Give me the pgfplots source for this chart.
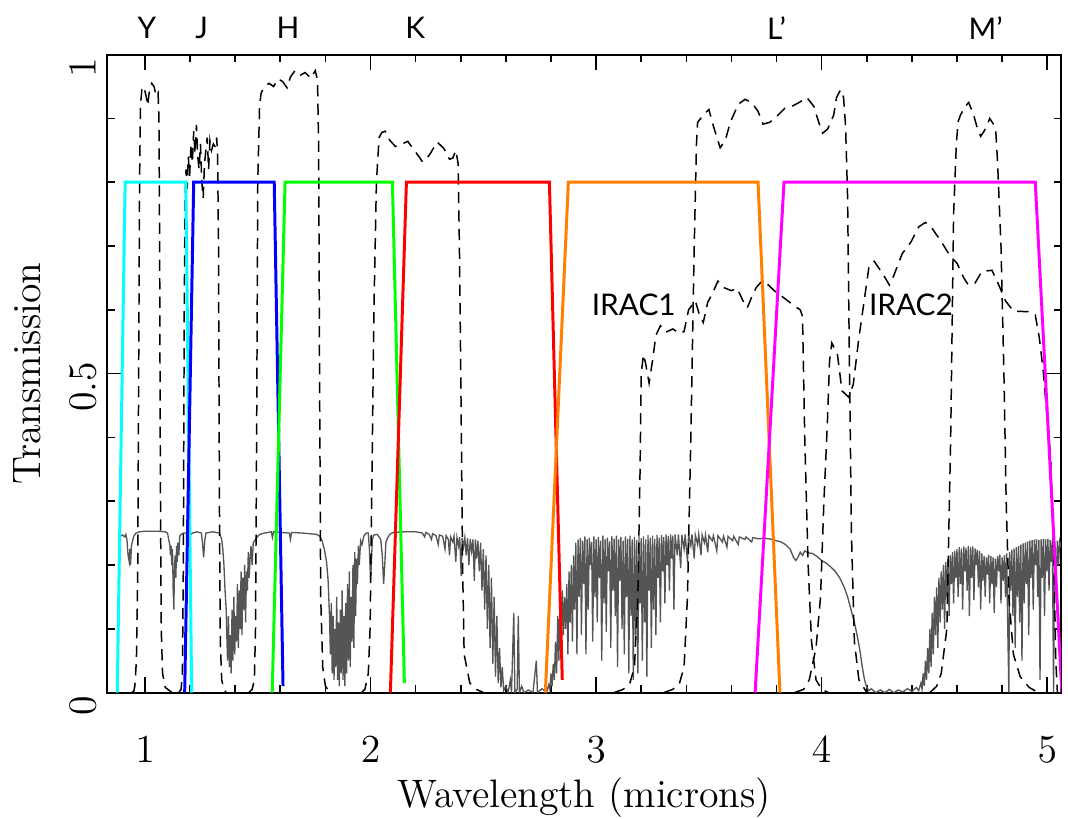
\documentclass[border=0pt]{standalone}
\usepackage{fontspec}
\newfontfamily\labelfont{Lato}
\usepackage{pgfplots}
\pgfplotsset{compat=1.18}
\definecolor{atm}{RGB}{85,85,85}
\definecolor{yband}{RGB}{0,255,255}
\definecolor{jband}{RGB}{0,0,255}
\definecolor{hband}{RGB}{0,255,0}
\definecolor{kband}{RGB}{255,0,0}
\definecolor{lband}{RGB}{255,128,0}
\definecolor{mband}{RGB}{255,0,255}

% atmospheric transmission (scaled to 0.25)
\pgfplotstableread[header=false,row sep=\\]{
0.890 0.245\\ 0.900 0.247\\ 0.910 0.244\\ 0.915 0.248\\ 0.920 0.240\\ 0.925 0.215\\ 0.930 0.205\\ 0.933 0.225\\
0.936 0.200\\ 0.940 0.230\\ 0.945 0.238\\ 0.950 0.245\\ 0.960 0.250\\ 0.975 0.252\\ 1.000 0.253\\ 1.050 0.253\\
1.090 0.252\\ 1.100 0.250\\ 1.105 0.240\\ 1.110 0.232\\ 1.113 0.215\\ 1.116 0.230\\ 1.119 0.200\\ 1.122 0.225\\
1.125 0.160\\ 1.128 0.130\\ 1.131 0.200\\ 1.134 0.215\\ 1.137 0.180\\ 1.140 0.230\\ 1.143 0.205\\ 1.146 0.235\\
1.150 0.215\\ 1.154 0.245\\ 1.160 0.248\\ 1.170 0.250\\ 1.190 0.250\\ 1.200 0.247\\ 1.210 0.250\\ 1.230 0.252\\
1.250 0.250\\ 1.255 0.235\\ 1.260 0.212\\ 1.265 0.238\\ 1.270 0.250\\ 1.300 0.252\\ 1.330 0.250\\ 1.340 0.240\\
1.345 0.225\\ 1.350 0.200\\ 1.355 0.160\\ 1.360 0.130\\ 1.362 0.100\\ 1.366 0.050\\ 1.370 0.120\\ 1.374 0.040\\
1.378 0.090\\ 1.382 0.030\\ 1.386 0.130\\ 1.390 0.050\\ 1.394 0.150\\ 1.398 0.060\\ 1.402 0.120\\ 1.406 0.080\\
1.410 0.170\\ 1.414 0.070\\ 1.418 0.160\\ 1.422 0.100\\ 1.426 0.190\\ 1.430 0.090\\ 1.434 0.180\\ 1.438 0.130\\
1.442 0.200\\ 1.446 0.110\\ 1.450 0.190\\ 1.454 0.160\\ 1.458 0.220\\ 1.462 0.180\\ 1.466 0.210\\ 1.470 0.230\\
1.475 0.200\\ 1.480 0.235\\ 1.490 0.240\\ 1.500 0.245\\ 1.510 0.248\\ 1.530 0.250\\ 1.560 0.252\\ 1.565 0.243\\
1.570 0.252\\ 1.600 0.251\\ 1.640 0.250\\ 1.645 0.240\\ 1.650 0.251\\ 1.700 0.250\\ 1.730 0.249\\ 1.760 0.248\\
1.775 0.245\\ 1.785 0.238\\ 1.795 0.225\\ 1.805 0.205\\ 1.812 0.175\\ 1.818 0.120\\ 1.822 0.060\\ 1.826 0.140\\
1.830 0.030\\ 1.834 0.120\\ 1.838 0.020\\ 1.842 0.100\\ 1.846 0.040\\ 1.850 0.150\\ 1.854 0.020\\ 1.858 0.110\\
1.862 0.010\\ 1.866 0.130\\ 1.870 0.030\\ 1.874 0.160\\ 1.878 0.020\\ 1.882 0.120\\ 1.886 0.010\\ 1.890 0.140\\
1.894 0.030\\ 1.898 0.170\\ 1.902 0.050\\ 1.906 0.190\\ 1.910 0.040\\ 1.914 0.150\\ 1.918 0.080\\ 1.922 0.200\\
1.926 0.070\\ 1.930 0.220\\ 1.934 0.120\\ 1.938 0.210\\ 1.942 0.170\\ 1.946 0.230\\ 1.950 0.200\\ 1.956 0.238\\
1.962 0.232\\ 1.970 0.245\\ 1.980 0.250\\ 1.990 0.250\\ 1.995 0.225\\ 2.000 0.175\\ 2.004 0.205\\ 2.008 0.240\\
2.015 0.247\\ 2.030 0.248\\ 2.045 0.240\\ 2.052 0.215\\ 2.058 0.170\\ 2.063 0.200\\ 2.068 0.235\\ 2.075 0.242\\
2.085 0.248\\ 2.100 0.251\\ 2.150 0.252\\ 2.200 0.252\\ 2.230 0.250\\ 2.240 0.244\\ 2.245 0.251\\ 2.260 0.248\\
2.270 0.240\\ 2.275 0.249\\ 2.290 0.246\\ 2.300 0.232\\ 2.305 0.247\\ 2.320 0.245\\ 2.330 0.225\\ 2.335 0.246\\
2.345 0.240\\ 2.350 0.215\\ 2.355 0.244\\ 2.365 0.236\\ 2.370 0.245\\ 2.378 0.205\\ 2.383 0.243\\ 2.390 0.230\\
2.395 0.244\\ 2.402 0.183\\ 2.406 0.242\\ 2.412 0.228\\ 2.418 0.243\\ 2.424 0.215\\ 2.430 0.242\\ 2.436 0.200\\
2.442 0.241\\ 2.448 0.222\\ 2.454 0.240\\ 2.460 0.175\\ 2.465 0.240\\ 2.470 0.210\\ 2.476 0.238\\ 2.482 0.190\\
2.488 0.235\\ 2.494 0.160\\ 2.500 0.225\\ 2.506 0.130\\ 2.512 0.215\\ 2.518 0.100\\ 2.524 0.200\\ 2.530 0.070\\
2.536 0.180\\ 2.542 0.045\\ 2.548 0.150\\ 2.554 0.025\\ 2.560 0.120\\ 2.566 0.015\\ 2.572 0.070\\ 2.578 0.008\\
2.584 0.040\\ 2.590 0.003\\ 2.600 0.010\\ 2.610 0.000\\ 2.620 0.020\\ 2.625 0.000\\ 2.635 0.125\\ 2.640 0.000\\
2.650 0.005\\ 2.655 0.120\\ 2.660 0.000\\ 2.670 0.010\\ 2.680 0.000\\ 2.700 0.004\\ 2.720 0.000\\ 2.735 0.050\\
2.740 0.000\\ 2.760 0.006\\ 2.780 0.000\\ 2.790 0.012\\ 2.795 0.005\\ 2.800 0.030\\ 2.805 0.010\\ 2.810 0.045\\
2.815 0.020\\ 2.820 0.080\\ 2.825 0.030\\ 2.830 0.120\\ 2.835 0.050\\ 2.840 0.145\\ 2.845 0.070\\ 2.850 0.160\\
2.855 0.090\\ 2.860 0.150\\ 2.865 0.100\\ 2.870 0.170\\ 2.875 0.060\\ 2.880 0.190\\ 2.885 0.110\\ 2.890 0.200\\
2.895 0.080\\ 2.900 0.215\\ 2.905 0.130\\ 2.910 0.235\\ 2.915 0.060\\ 2.920 0.240\\ 2.925 0.150\\ 2.930 0.242\\
2.935 0.090\\ 2.940 0.238\\ 2.945 0.170\\ 2.950 0.245\\ 2.955 0.060\\ 2.960 0.240\\ 2.965 0.130\\ 2.970 0.243\\
2.975 0.200\\ 2.980 0.236\\ 2.985 0.080\\ 2.990 0.245\\ 2.995 0.150\\ 3.000 0.240\\ 3.005 0.110\\ 3.010 0.244\\
3.015 0.180\\ 3.020 0.238\\ 3.025 0.050\\ 3.030 0.246\\ 3.035 0.140\\ 3.040 0.240\\ 3.045 0.095\\ 3.050 0.243\\
3.055 0.190\\ 3.060 0.237\\ 3.065 0.070\\ 3.070 0.245\\ 3.075 0.160\\ 3.080 0.241\\ 3.085 0.120\\ 3.090 0.246\\
3.095 0.040\\ 3.100 0.240\\ 3.105 0.175\\ 3.110 0.244\\ 3.115 0.100\\ 3.120 0.238\\ 3.125 0.060\\ 3.130 0.245\\
3.135 0.150\\ 3.140 0.241\\ 3.145 0.030\\ 3.150 0.246\\ 3.155 0.120\\ 3.160 0.240\\ 3.165 0.020\\ 3.170 0.244\\
3.175 0.090\\ 3.180 0.239\\ 3.185 0.030\\ 3.190 0.246\\ 3.195 0.140\\ 3.200 0.242\\ 3.205 0.050\\ 3.210 0.245\\
3.215 0.110\\ 3.220 0.240\\ 3.225 0.025\\ 3.230 0.247\\ 3.235 0.160\\ 3.240 0.243\\ 3.245 0.070\\ 3.250 0.246\\
3.255 0.130\\ 3.260 0.241\\ 3.265 0.090\\ 3.270 0.247\\ 3.275 0.180\\ 3.280 0.243\\ 3.285 0.110\\ 3.290 0.247\\
3.295 0.190\\ 3.300 0.244\\ 3.305 0.140\\ 3.310 0.248\\ 3.315 0.200\\ 3.320 0.245\\ 3.325 0.160\\ 3.330 0.248\\
3.335 0.210\\ 3.340 0.246\\ 3.345 0.130\\ 3.350 0.248\\ 3.360 0.215\\ 3.365 0.248\\ 3.375 0.195\\ 3.380 0.247\\
3.390 0.225\\ 3.395 0.248\\ 3.405 0.205\\ 3.410 0.247\\ 3.420 0.230\\ 3.425 0.248\\ 3.435 0.210\\ 3.440 0.247\\
3.450 0.232\\ 3.455 0.248\\ 3.465 0.215\\ 3.470 0.247\\ 3.480 0.235\\ 3.485 0.247\\ 3.495 0.220\\ 3.500 0.246\\
3.515 0.238\\ 3.520 0.246\\ 3.535 0.222\\ 3.540 0.246\\ 3.560 0.236\\ 3.565 0.245\\ 3.580 0.228\\ 3.585 0.245\\
3.605 0.238\\ 3.610 0.245\\ 3.630 0.232\\ 3.635 0.244\\ 3.660 0.240\\ 3.665 0.244\\ 3.690 0.236\\ 3.695 0.243\\
3.720 0.241\\ 3.750 0.242\\ 3.780 0.240\\ 3.800 0.238\\ 3.820 0.236\\ 3.840 0.232\\ 3.860 0.225\\ 3.875 0.212\\
3.885 0.207\\ 3.895 0.212\\ 3.905 0.220\\ 3.915 0.215\\ 3.925 0.222\\ 3.940 0.219\\ 3.960 0.218\\ 3.980 0.213\\
4.000 0.207\\ 4.020 0.203\\ 4.040 0.197\\ 4.060 0.190\\ 4.080 0.180\\ 4.100 0.165\\ 4.115 0.150\\ 4.130 0.130\\
4.145 0.110\\ 4.160 0.085\\ 4.170 0.065\\ 4.180 0.040\\ 4.190 0.020\\ 4.200 0.008\\ 4.210 0.003\\ 4.220 0.006\\
4.240 0.000\\ 4.260 0.004\\ 4.280 0.000\\ 4.300 0.005\\ 4.320 0.000\\ 4.340 0.004\\ 4.360 0.001\\ 4.380 0.006\\
4.400 0.002\\ 4.420 0.008\\ 4.430 0.003\\ 4.440 0.015\\ 4.445 0.005\\ 4.450 0.030\\ 4.455 0.010\\ 4.460 0.050\\
4.465 0.020\\ 4.470 0.070\\ 4.475 0.030\\ 4.480 0.100\\ 4.485 0.040\\ 4.490 0.125\\ 4.495 0.060\\ 4.500 0.150\\
4.505 0.090\\ 4.510 0.165\\ 4.515 0.070\\ 4.520 0.180\\ 4.525 0.110\\ 4.530 0.190\\ 4.535 0.130\\ 4.540 0.200\\
4.545 0.100\\ 4.550 0.205\\ 4.555 0.150\\ 4.560 0.210\\ 4.565 0.120\\ 4.570 0.215\\ 4.575 0.170\\ 4.580 0.220\\
4.585 0.140\\ 4.590 0.222\\ 4.595 0.180\\ 4.600 0.225\\ 4.605 0.150\\ 4.610 0.228\\ 4.615 0.170\\ 4.620 0.226\\
4.625 0.130\\ 4.630 0.229\\ 4.635 0.190\\ 4.640 0.227\\ 4.645 0.160\\ 4.650 0.230\\ 4.655 0.120\\ 4.660 0.228\\
4.665 0.180\\ 4.670 0.229\\ 4.675 0.145\\ 4.680 0.226\\ 4.685 0.200\\ 4.690 0.224\\ 4.695 0.165\\ 4.700 0.222\\
4.705 0.130\\ 4.710 0.218\\ 4.715 0.175\\ 4.720 0.214\\ 4.725 0.150\\ 4.730 0.212\\ 4.735 0.185\\ 4.740 0.216\\
4.745 0.140\\ 4.750 0.214\\ 4.755 0.170\\ 4.760 0.212\\ 4.765 0.125\\ 4.770 0.210\\ 4.775 0.165\\ 4.780 0.214\\
4.785 0.190\\ 4.790 0.216\\ 4.795 0.140\\ 4.800 0.212\\ 4.805 0.175\\ 4.810 0.215\\ 4.815 0.150\\ 4.820 0.218\\
4.825 0.100\\ 4.830 0.000\\ 4.833 0.220\\ 4.838 0.160\\ 4.843 0.224\\ 4.848 0.120\\ 4.853 0.226\\ 4.858 0.070\\
4.863 0.228\\ 4.868 0.150\\ 4.873 0.230\\ 4.878 0.110\\ 4.883 0.232\\ 4.888 0.050\\ 4.893 0.234\\ 4.898 0.140\\
4.903 0.235\\ 4.908 0.170\\ 4.913 0.237\\ 4.918 0.090\\ 4.923 0.238\\ 4.928 0.180\\ 4.933 0.239\\ 4.938 0.130\\
4.943 0.240\\ 4.948 0.200\\ 4.953 0.240\\ 4.958 0.150\\ 4.963 0.239\\ 4.968 0.020\\ 4.973 0.240\\ 4.978 0.180\\
4.983 0.241\\ 4.988 0.120\\ 4.993 0.240\\ 4.998 0.190\\ 5.003 0.241\\ 5.008 0.160\\ 5.013 0.239\\ 5.018 0.205\\
5.023 0.238\\ 5.028 0.000\\ 5.033 0.236\\ 5.040 0.180\\ 5.045 0.238\\ 5.050 0.200\\ 5.055 0.237\\ 5.060 0.230\\
5.070 0.238\\
}\atmos

\begin{document}
\begin{tikzpicture}
\begin{axis}[
  width=288pt,height=192.6pt,scale only axis,
  xmin=0.833,xmax=5.062,ymin=0,ymax=1,
  xtick={1,2,3,4,5},minor x tick num=4,
  ytick={0,0.5,1},minor y tick num=4,
  major tick length=4.7pt,minor tick length=2.3pt,
  tick style={black,line width=0.5pt},
  axis line style={line width=0.6pt},
  tick label style={font=\fontsize{12}{14}\selectfont},
  xticklabel style={yshift=-10pt},
  yticklabel style={rotate=90,anchor=south,xshift=-4pt},
  label style={font=\fontsize{12}{14}\selectfont},
  xlabel={Wavelength (microns)},
  xlabel style={at={(axis description cs:0.5,0)},anchor=base,inner sep=0pt,yshift=-34.8pt},
  ylabel={Transmission},
  ylabel style={at={(axis description cs:-0.084,0.5)},anchor=center,rotate=0},
  clip mode=individual,
  dashfilt/.style={black,line width=0.45pt,dash pattern=on 3.4pt off 2.2pt},
  bandfilt/.style={line width=0.9pt},
]
% atmosphere
\addplot[atm,line width=0.4pt] table[x index=0,y index=1] {\atmos};

% MKO filters (dashed)
\addplot[dashfilt] coordinates {(0.940,0) (0.950,0.002) (0.955,0.010) (0.962,0.050) (0.968,0.200)
 (0.972,0.500) (0.976,0.800) (0.980,0.920) (0.986,0.945) (0.995,0.950) (1.005,0.935) (1.012,0.920)
 (1.020,0.945) (1.030,0.955) (1.040,0.950) (1.050,0.935) (1.058,0.940) (1.062,0.900) (1.065,0.700)
 (1.068,0.350) (1.072,0.100) (1.078,0.030) (1.090,0.008) (1.120,0)};
\addplot[dashfilt] coordinates {(1.150,0) (1.160,0.005) (1.166,0.030) (1.170,0.200) (1.174,0.600)
 (1.178,0.780) (1.182,0.820) (1.187,0.790) (1.192,0.840) (1.198,0.810) (1.204,0.860) (1.210,0.830)
 (1.216,0.880) (1.222,0.845) (1.228,0.890) (1.234,0.840) (1.240,0.820) (1.246,0.860) (1.252,0.800)
 (1.258,0.775) (1.264,0.830) (1.270,0.850) (1.276,0.870) (1.282,0.820) (1.288,0.865) (1.295,0.850)
 (1.303,0.860) (1.312,0.855) (1.318,0.870) (1.322,0.840) (1.326,0.700) (1.330,0.300) (1.334,0.080)
 (1.340,0.020) (1.350,0.005) (1.360,0)};
\addplot[dashfilt] coordinates {(1.460,0) (1.475,0.005) (1.485,0.020) (1.490,0.100) (1.495,0.400)
 (1.500,0.800) (1.508,0.920) (1.515,0.940) (1.530,0.950) (1.550,0.955) (1.570,0.950) (1.590,0.962)
 (1.610,0.958) (1.630,0.948) (1.645,0.965) (1.665,0.975) (1.690,0.968) (1.710,0.972) (1.735,0.963)
 (1.755,0.975) (1.765,0.960) (1.770,0.850) (1.774,0.500) (1.779,0.150) (1.788,0.040) (1.800,0.010)
 (1.820,0)};
\addplot[dashfilt] coordinates {(1.960,0) (1.975,0.005) (1.990,0.030) (1.998,0.100) (2.005,0.300)
 (2.015,0.600) (2.026,0.800) (2.038,0.870) (2.050,0.878) (2.065,0.880) (2.085,0.866) (2.110,0.856)
 (2.140,0.860) (2.165,0.864) (2.190,0.852) (2.215,0.840) (2.230,0.832) (2.250,0.838) (2.265,0.845)
 (2.295,0.863) (2.325,0.853) (2.350,0.836) (2.365,0.838) (2.378,0.850) (2.388,0.830) (2.394,0.700)
 (2.400,0.500) (2.408,0.200) (2.415,0.060) (2.440,0.015) (2.470,0.005) (2.500,0)};
\addplot[dashfilt] coordinates {(3.300,0) (3.340,0.005) (3.370,0.015) (3.390,0.040) (3.405,0.150)
 (3.420,0.400) (3.435,0.700) (3.445,0.860) (3.450,0.894) (3.475,0.905) (3.500,0.914) (3.520,0.888)
 (3.550,0.854) (3.573,0.866) (3.595,0.894) (3.630,0.922) (3.660,0.930) (3.690,0.925) (3.718,0.911)
 (3.740,0.891) (3.770,0.894) (3.806,0.905) (3.837,0.916) (3.868,0.919) (3.900,0.925) (3.934,0.933)
 (3.965,0.919) (3.987,0.894) (4.004,0.877) (4.026,0.883) (4.053,0.905) (4.066,0.933) (4.084,0.945)
 (4.097,0.933) (4.106,0.888) (4.115,0.776) (4.122,0.550) (4.132,0.250) (4.145,0.080) (4.165,0.020)
 (4.200,0)};
\addplot[dashfilt] coordinates {(4.480,0) (4.510,0.010) (4.530,0.030) (4.555,0.100) (4.572,0.400)
 (4.585,0.750) (4.597,0.860) (4.605,0.895) (4.615,0.905) (4.634,0.918) (4.652,0.925) (4.674,0.905)
 (4.690,0.885) (4.705,0.872) (4.720,0.880) (4.732,0.888) (4.745,0.900) (4.760,0.892) (4.772,0.880)
 (4.780,0.830) (4.795,0.700) (4.808,0.500) (4.818,0.300) (4.830,0.150) (4.850,0.060) (4.880,0.025)
 (4.920,0.008) (4.960,0)};
% IRAC 1 and 2 (dashed)
\addplot[dashfilt] coordinates {(3.080,0) (3.120,0.005) (3.150,0.015) (3.170,0.040) (3.185,0.150)
 (3.195,0.350) (3.200,0.500) (3.210,0.530) (3.220,0.515) (3.235,0.485) (3.250,0.520) (3.265,0.560)
 (3.285,0.575) (3.310,0.565) (3.340,0.570) (3.370,0.563) (3.390,0.566) (3.410,0.600) (3.440,0.614)
 (3.460,0.590) (3.475,0.580) (3.495,0.612) (3.515,0.625) (3.540,0.645) (3.565,0.635) (3.600,0.630)
 (3.625,0.634) (3.650,0.615) (3.670,0.603) (3.690,0.620) (3.710,0.635) (3.735,0.645) (3.760,0.640)
 (3.790,0.630) (3.820,0.622) (3.850,0.614) (3.880,0.606) (3.905,0.600) (3.915,0.590) (3.925,0.400)
 (3.940,0.200) (3.955,0.080) (3.975,0.020) (4.000,0.005) (4.030,0)};
\addplot[dashfilt] coordinates {(3.880,0) (3.920,0.005) (3.945,0.020) (3.975,0.070) (3.995,0.150)
 (4.010,0.300) (4.025,0.420) (4.035,0.520) (4.045,0.548) (4.070,0.530) (4.090,0.473) (4.120,0.463)
 (4.140,0.483) (4.165,0.556) (4.190,0.618) (4.210,0.668) (4.233,0.676) (4.270,0.657) (4.300,0.639)
 (4.320,0.654) (4.357,0.688) (4.397,0.707) (4.430,0.730) (4.460,0.737) (4.485,0.730) (4.530,0.707)
 (4.570,0.684) (4.600,0.673) (4.630,0.650) (4.650,0.639) (4.680,0.642) (4.710,0.660) (4.755,0.662)
 (4.785,0.639) (4.815,0.614) (4.850,0.598) (4.916,0.597) (4.947,0.592) (4.965,0.556) (4.982,0.505)
 (5.000,0.430) (5.015,0.370) (5.030,0.200) (5.038,0.050) (5.045,0)};

% idealised band passes
\addplot[bandfilt,yband] coordinates {(0.877,0) (0.912,0.8) (1.181,0.8) (1.207,0)};
\addplot[bandfilt,jband] coordinates {(1.176,0) (1.216,0.8) (1.573,0.8) (1.612,0.01)};
\addplot[bandfilt,hband] coordinates {(1.564,0) (1.621,0.8) (2.097,0.8) (2.150,0.015)};
\addplot[bandfilt,kband] coordinates {(2.088,0) (2.159,0.8) (2.793,0.8) (2.850,0.02)};
\addplot[bandfilt,lband] coordinates {(2.775,0) (2.877,0.8) (3.718,0.8) (3.815,0)};
\addplot[bandfilt,mband] coordinates {(3.705,0) (3.833,0.8) (4.947,0.8) (5.065,0)};

% labels
\begin{scope}[every node/.style={font=\labelfont\fontsize{9}{11}\selectfont}]
\node at (axis cs:1.009,1.042) {Y};
\node at (axis cs:1.251,1.042) {J};
\node at (axis cs:1.634,1.042) {H};
\node at (axis cs:2.198,1.042) {K};
\node at (axis cs:3.800,1.042) {L’};
\node at (axis cs:4.727,1.042) {M’};
\node at (axis cs:3.167,0.6075) {IRAC1};
\node at (axis cs:4.396,0.6075) {IRAC2};
\end{scope}
\coordinate (bl) at (axis description cs:-0.1125,-0.197);
\coordinate (tr) at (axis description cs:1.0,1.0857);
\end{axis}
\path (bl) rectangle (tr);
\end{tikzpicture}
\end{document}
